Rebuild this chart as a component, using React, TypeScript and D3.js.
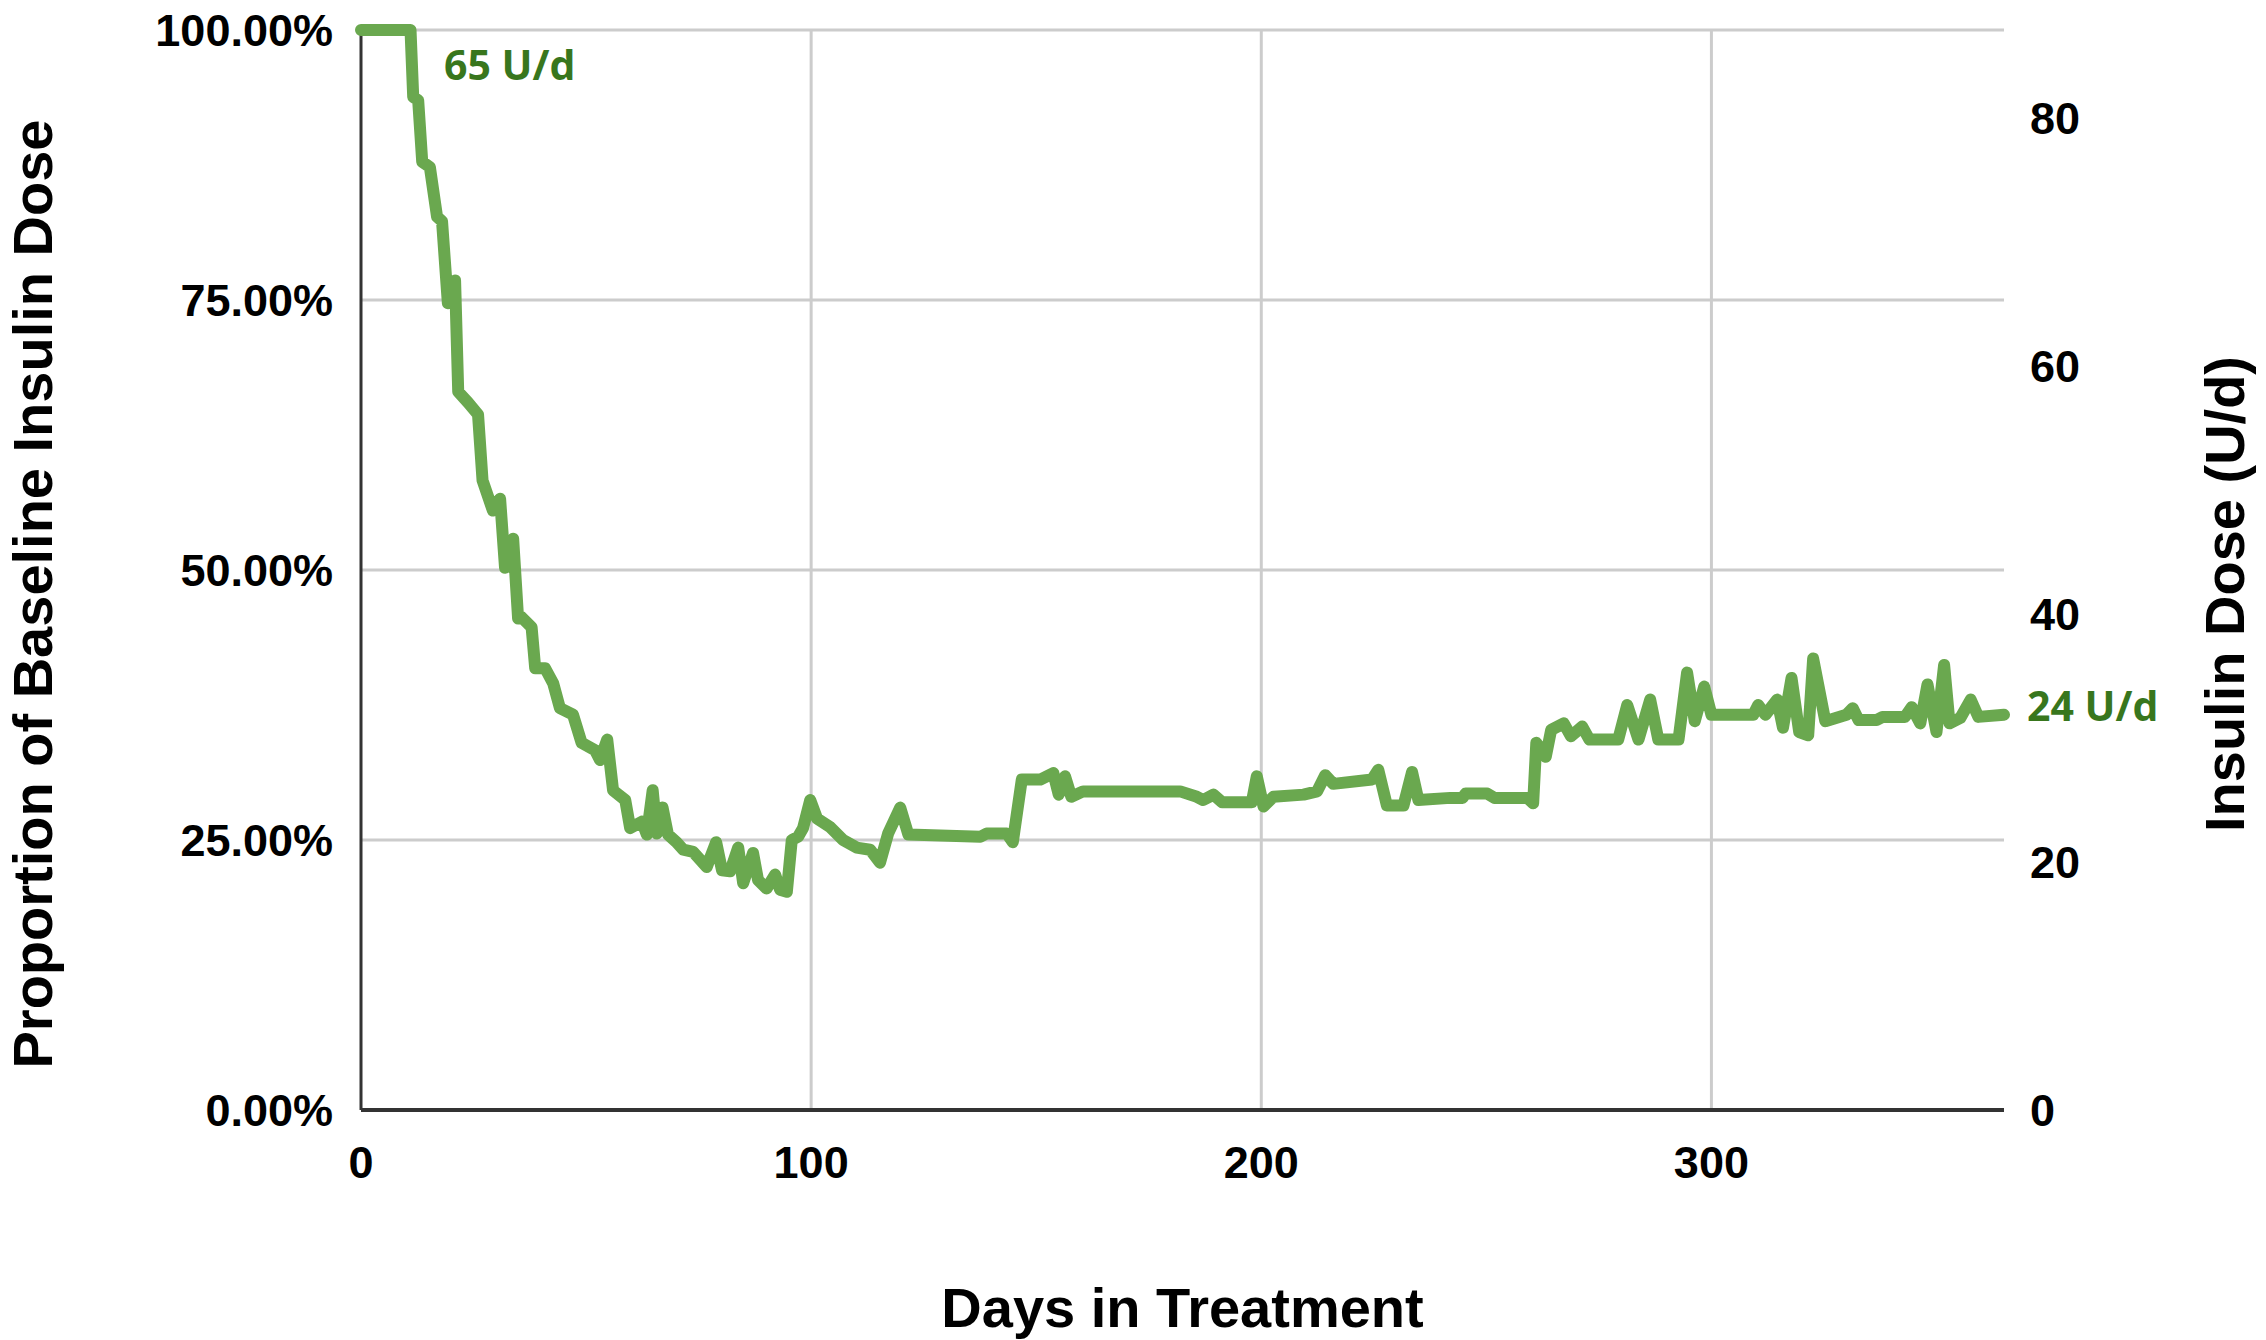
import React from "react";
import * as d3 from "d3";

// day in treatment
const days = [
  0, 11, 11.6, 12.7, 13.6, 15.3, 16.9, 18, 19.3, 20.9, 21.6, 23.8, 26, 27, 29.3, 30.9, 32, 33.8, 34.9,
  35.5, 37.9, 38.7, 40.9, 42.7, 44.2, 47.1, 49, 52, 53.1, 54.7, 56, 58.7, 59.8, 62.4, 63.5, 64.8, 65.7,
  67, 68.2, 70.1, 71.6, 73.8, 76.8, 78.9, 80.2, 82, 83.8, 84.9, 87.1, 88.2, 90.1, 92, 93.1, 94.6, 95.7,
  97.1, 98.2, 99.8, 101.3, 104.2, 107.1, 110.1, 113.1, 115.3, 117.1, 119.8, 121.6, 137.6, 139, 143.5,
  144.8, 146.8, 150.9, 153.8, 155, 156.4, 157.8, 160.4, 182, 185.7, 187.1, 189.4, 191.3, 197.9, 199,
  200.5, 202.7, 209.4, 212.4, 214.2, 216, 224.6, 226, 227.9, 231.6, 233.5, 234.9, 242, 244.7, 245.4,
  250.2, 251.8, 259.1, 260.4, 261.1, 263.2, 264.4, 267.2, 268.8, 271.3, 272.9, 279.3, 281.3, 283.8,
  286.4, 288.2, 292.7, 294.6, 296.3, 298.4, 300, 309.3, 310.4, 312, 314.6, 315.9, 317.8, 319.5, 321.5,
  322.6, 325.3, 330, 331.4, 332.7, 336.7, 338, 343, 344.5, 346.4, 348, 350, 351.7, 352.9, 355.3, 357.6,
  359.3, 365,
];

// proportion of baseline dose (%)
const proportion = [
  100, 100, 93.8, 93.5, 87.8, 87.3, 82.7, 82.3, 74.7, 76.8, 66.5, 65.5, 64.4, 58.3, 55.5, 56.6, 50.2, 52.9, 45.5,
  45.7, 44.7, 40.9, 40.9, 39.5, 37.2, 36.6, 34, 33.3, 32.4, 34.3, 29.6, 28.7, 26.1, 26.7, 25.5, 29.6, 25.6,
  28, 25.5, 24.8, 24.1, 23.9, 22.5, 24.8, 22.2, 22.1, 24.3, 21, 23.8, 21.3, 20.5, 21.8, 20.4, 20.2, 25,
  25.3, 26.1, 28.7, 27, 26.2, 25, 24.3, 24.1, 22.9, 25.6, 28, 25.5, 25.3, 25.6, 25.6,
  24.8, 30.6, 30.6, 31.2, 29.2, 30.9, 29, 29.5, 29.5, 29, 28.7, 29.2, 28.5, 28.5, 30.9,
  28.1, 29, 29.2, 29.5, 31, 30.2, 30.6, 31.5, 28.2, 28.2, 31.3, 28.7, 28.9, 28.9, 29.3,
  29.3, 28.9, 28.9, 28.4, 34, 32.7, 35.2, 35.8, 34.6, 35.5, 34.3, 34.3, 37.5, 34.3,
  38, 34.3, 34.3, 40.5, 36, 39.2, 36.6, 36.6, 37.5, 36.6, 38, 35.4, 40, 35, 34.7,
  41.8, 36, 36.6, 37.2, 36.1, 36.1, 36.4, 36.4, 37.3, 35.8, 39.4, 35, 41.2, 35.8, 36.3, 38,
  36.4, 36.6,
];

const xTicks = [0, 100, 200, 300];
const leftTicks = [0, 25, 50, 75, 100];
const rightTicks = [0, 20, 40, 60, 80];

const startLabel = "65 U/d";
const endLabel = "24 U/d";

export default function App() {
  const W = 2266;
  const H = 1340;
  const left = 361, right = 2004, top = 30, bottom = 1110;

  const x = d3.scaleLinear().domain([0, 365]).range([left, right]);
  const yPct = d3.scaleLinear().domain([0, 100]).range([bottom, top]);
  const yDose = d3.scaleLinear().domain([0, 87.1]).range([bottom, top]);

  const points = days.map((d, i) => [d, proportion[i]] as [number, number]);
  const line = d3
    .line<[number, number]>()
    .x((d) => x(d[0]))
    .y((d) => yPct(d[1]));

  const font = "'Liberation Sans', Arial, sans-serif";
  const green = "#6aa84f";
  const darkGreen = "#38761d";

  return (
    <svg
      width={W}
      height={H}
      style={{ position: "absolute", left: 0, top: 0, background: "#fff" }}
      fontFamily={font}
      fontWeight="bold"
    >
      {/* horizontal grid */}
      {leftTicks.slice(1).map((t) => (
        <line key={"h" + t} x1={left} x2={right} y1={yPct(t)} y2={yPct(t)} stroke="#cccccc" strokeWidth={3} />
      ))}
      {/* vertical grid */}
      {xTicks.slice(1).map((t) => (
        <line key={"v" + t} x1={x(t)} x2={x(t)} y1={top} y2={bottom} stroke="#cccccc" strokeWidth={3} />
      ))}

      {/* axes */}
      <line x1={left} x2={left} y1={top} y2={bottom} stroke="#333" strokeWidth={3} />
      <line x1={left} x2={right} y1={bottom} y2={bottom} stroke="#333" strokeWidth={4} />

      {/* data line */}
      <path
        d={line(points) || ""}
        fill="none"
        stroke={green}
        strokeWidth={12}
        strokeLinejoin="round"
        strokeLinecap="round"
      />

      {/* left tick labels */}
      {leftTicks.map((t) => (
        <text key={"lt" + t} x={333} y={yPct(t) + 16} textAnchor="end" fontSize={45} fill="#000">
          {t.toFixed(2) + "%"}
        </text>
      ))}
      {/* right tick labels */}
      {rightTicks.map((t) => (
        <text key={"rt" + t} x={2030} y={yDose(t) + 16} textAnchor="start" fontSize={45} fill="#000">
          {t}
        </text>
      ))}
      {/* x tick labels */}
      {xTicks.map((t) => (
        <text key={"xt" + t} x={x(t)} y={1178} textAnchor="middle" fontSize={45} fill="#000">
          {t}
        </text>
      ))}

      {/* axis titles */}
      <text x={(left + right) / 2} y={1327} textAnchor="middle" fontSize={56} fill="#000">
        Days in Treatment
      </text>
      <text transform="translate(52,594) rotate(-90)" textAnchor="middle" fontSize={56} fill="#000">
        Proportion of Baseline Insulin Dose
      </text>
      <text transform="translate(2244,594) rotate(-90)" textAnchor="middle" fontSize={56} fill="#000">
        Insulin Dose (U/d)
      </text>

      {/* annotations */}
      <text x={444} y={80} fontFamily="'Open Sans', sans-serif" fontWeight={700} fontSize={41} fill={darkGreen}>
        {startLabel}
      </text>
      <text x={2027} y={721} fontFamily="'Open Sans', sans-serif" fontWeight={700} fontSize={41} fill={darkGreen}>
        {endLabel}
      </text>
    </svg>
  );
}
